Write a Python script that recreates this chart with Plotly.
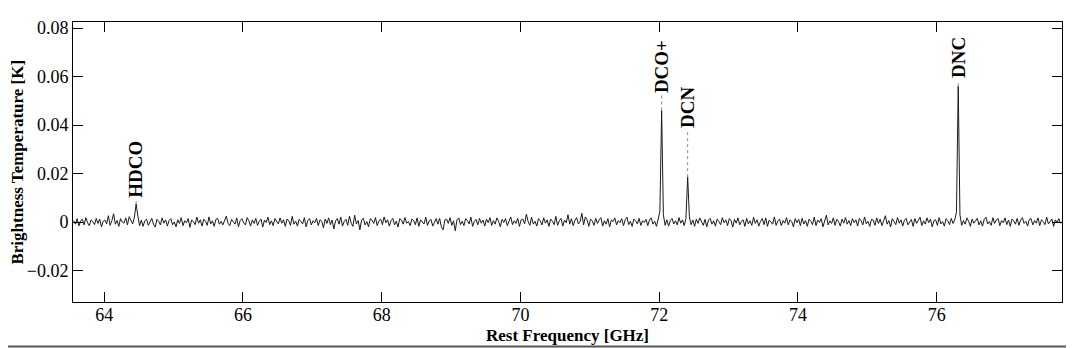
import plotly.graph_objects as go

# spectrum channels: start frequency and channel width (GHz)
freq_start = 63.56
chan_width = 0.025

# brightness temperature per channel, in mK
brightness_mk = [
    0.6, -0.9, 1.4, -1.6, 0.5, 1.1, -1.2, 1.8, -0.3, -1.5, 0.9, 0.2, -1.1, 1.5, -0.6, 1.2, -2.0, 0.3, 0.8, -0.8, 2.6, -1.4, 0.5, 3.4, -0.9, 0.6, -1.8, 1.4, 0.0, -0.5,
    1.7, -1.2, 2.2, 0.3, -0.8, 2.0, 7.4, 2.4, -1.5, 0.8, -1.8, 0.5, 1.2, -1.4, 0.2, 1.5, -0.9, -2.1, 1.1, 0.3, -1.2, 1.7, -0.5, 0.9, -1.7, 0.6, 1.4, -1.1, 0.0, -2.0,
    0.9, -0.6, 1.8, -1.5, 0.5, -0.3, 1.4, -2.2, 0.8, 0.2, -1.1, 2.0, -0.5, 0.9, -1.7, 1.2, 0.3, -1.4, 2.1, -0.8, 0.5, -1.8, 1.1, 1.5, -0.9, 0.3, -1.2, 0.8, 2.4, -0.6,
    -1.5, 1.1, 0.2, -0.9, 1.7, -2.0, 0.6, 1.4, -0.3, -1.2, 1.8, 0.5, -1.7, 0.9, -0.6, 1.5, -1.4, 0.3, 1.2, -2.1, 0.8, -0.2, 2.0, -1.1, 0.5, -1.5, 1.4, 0.0, -0.8, 1.7,
    -0.5, 0.9, -1.8, 1.2, 0.6, -1.4, 2.3, -0.9, 0.3, -1.7, 1.1, 0.2, -0.8, 1.8, -2.0, 0.6, 1.4, -1.2, 0.5, -0.3, 1.5, -1.5, 0.9, 0.3, -2.4, 1.2, -0.6, 1.7, -1.1, 0.8,
    -2.9, 0.5, 1.4, -0.9, 2.0, -1.7, 0.3, 1.1, -1.4, 2.4, -0.5, -1.8, 2.8, -0.8, 0.6, -3.2, 0.9, 1.5, -1.2, 0.2, -2.0, 1.4, 0.8, -0.6, 1.8, -1.5, 0.5, 1.2, -1.1, 2.1,
    -0.3, 0.9, -1.7, 0.6, 1.5, -1.2, 0.3, -2.1, 1.4, 0.8, -0.9, 1.8, -0.5, 0.2, -1.5, 1.2, 0.6, -1.1, 1.7, -1.8, 0.9, 0.0, -0.8, 2.0, -1.4, 0.5, 1.1, -1.7, 0.3, 1.4,
    -0.9, 1.5, -2.0, -3.2, 0.8, 1.2, -0.6, 1.8, -1.4, 0.5, -3.6, 0.9, 1.7, -1.1, 0.3, -1.5, 1.4, 0.6, -0.8, 2.0, -1.8, 0.2, 1.1, -1.2, 1.5, -0.5, 0.8, -1.7, 1.2, -0.3,
    1.8, -1.4, 0.6, -0.9, 1.7, 0.3, -2.0, 1.1, -0.2, 1.4, -1.5, 0.8, 2.1, -1.1, 0.5, -0.6, 1.5, -1.8, 0.9, 1.2, -0.8, 3.2, 0.2, -1.4, 2.0, -0.9, 0.3, -1.7, 1.4, 0.6,
    -1.2, 1.7, -0.5, 0.9, -1.8, 1.2, 0.3, -1.1, 2.3, -1.4, 0.5, 1.5, -1.7, 0.8, -0.3, 3.0, -0.9, 1.4, -1.5, 0.6, 1.8, -0.8, 0.2, 3.6, -1.2, 2.1, 0.9, -1.8, 1.1, 0.5,
    -1.4, 1.5, -0.6, 0.9, 1.8, -1.7, 0.5, -0.9, 1.4, -2.0, 0.8, 0.2, 1.7, -1.2, 0.6, -0.3, 1.4, -1.5, 0.9, 2.0, -1.1, 0.3, -1.8, 1.2, 0.6, -0.8, 1.5, -1.4, 0.5, -0.2,
    1.1, -1.5, 0.8, 1.7, -0.9, 0.3, -1.8, 1.2, 4.5, 46.0, 3.0, -1.4, 0.9, -1.7, 0.6, 1.5, -0.8, 0.5, -1.2, 1.8, -0.5, 0.9, -1.5, 1.4, 18.5, 2.1, -1.1, 0.8, -1.8, 1.2,
    -0.6, 1.7, 0.3, -1.4, 1.1, -2.0, 0.8, 1.5, -0.9, 0.5, -1.7, 1.2, 0.2, -1.1, 1.8, -0.3, 0.9, -1.5, 1.4, 0.6, -2.1, 1.1, -0.5, 1.7, -1.2, 0.3, 0.9, -1.8, 1.5, -0.8,
    0.5, -1.4, 2.0, -0.6, 0.9, -1.7, 0.3, 1.4, -1.1, 1.7, -1.8, 0.8, 0.0, -0.9, 2.1, -1.4, 0.5, 1.2, -1.5, 0.6, -0.5, 1.8, -1.2, 0.9, 0.2, -2.0, 1.4, -0.3, 1.1, -1.5,
    1.5, -0.8, 0.6, -1.8, 1.2, 0.3, -1.1, 2.0, -1.5, 0.8, -0.2, 1.4, -2.0, 0.9, 2.8, -1.2, 0.5, -0.6, 1.7, -1.4, 1.1, 0.2, -1.7, 1.2, -0.5, 1.8, -0.9, 0.6, -1.5, 1.4,
    -0.3, 0.9, -1.7, 1.5, 0.5, -1.2, 2.1, -0.8, 0.3, -1.8, 1.1, 0.8, -1.4, 1.7, -0.6, 1.2, -1.5, 0.5, 2.6, -0.9, 0.6, -2.0, 1.4, 0.2, -1.1, 1.8, -0.5, 0.9, -1.7, 0.8,
    1.5, -1.2, 0.3, 1.1, -1.8, 1.4, -0.6, 0.8, 2.0, -1.5, 0.5, -0.9, 1.7, -0.3, 1.2, -2.0, 0.6, 0.9, -1.4, 1.8, -0.8, 0.2, -1.7, 1.4, 0.5, -1.1, 1.5, -0.6, 0.9, 4.0,
    56.0, 3.0, -1.4, 0.6, -0.9, 1.7, 0.3, -1.8, 1.2, -0.5, 0.8, 1.5, -1.2, 0.5, -1.7, 1.1, 2.0, -0.8, 0.2, -1.4, 1.8, -0.6, 0.9, 1.4, -1.5, 0.6, -0.3, 1.7, -1.1, 0.8,
    -1.8, 1.2, 0.5, -0.9, 1.5, -1.4, 0.8, 1.8, -0.6, 0.3, -1.7, 1.1, 1.4, -1.2, 0.6, -0.5, 1.7, -1.5, 0.9, 0.2, -1.1, 2.0, -0.8, 0.5, 1.2, -1.8, 0.9, -0.3, 1.4, -0.6,
]

# line identifications
line_names = ["HDCO", "DCO+", "DCN", "DNC"]
line_freqs = [64.46, 72.035, 72.41, 76.31]
line_peaks = [0.0074, 0.046, 0.0185, 0.056]
label_bases = [0.009, 0.0524, 0.038, 0.0585]

FONT = "Liberation Serif"

fig = go.Figure()

fig.add_trace(go.Scatter(
    x0=freq_start, dx=chan_width,
    y=[v / 1000 for v in brightness_mk],
    mode="lines", line=dict(color="#1a1a1a", width=1),
    showlegend=False, hoverinfo="skip",
))

for name, f, peak, base in zip(line_names, line_freqs, line_peaks, label_bases):
    fig.add_trace(go.Scatter(
        x=[f, f], y=[peak, base], mode="lines",
        line=dict(color="#888888", width=1, dash="dot"),
        showlegend=False, hoverinfo="skip",
    ))
    fig.add_annotation(
        x=f, y=base, text="<b>%s</b>" % name, textangle=-90,
        xanchor="center", yanchor="bottom", showarrow=False,
        font=dict(family=FONT, size=19, color="black"),
    )

fig.add_annotation(
    xref="paper", yref="paper", x=0.5, y=-0.118,
    text="<b>Rest Frequency [GHz]</b>", showarrow=False,
    xanchor="center", yanchor="middle",
    font=dict(family=FONT, size=17, color="black"),
)
fig.add_annotation(
    xref="paper", yref="paper", x=-0.0571, y=0.5,
    text="<b>Brightness Temperature [K]</b>", showarrow=False, textangle=-90,
    xanchor="center", yanchor="middle",
    font=dict(family=FONT, size=17, color="black"),
)

# grey rule along the bottom of the image
fig.add_shape(
    type="line", xref="paper", yref="paper",
    x0=-0.074, x1=1.013, y0=-0.159, y1=-0.159,
    line=dict(color="#555555", width=2),
)

axis_style = dict(
    showline=True, linecolor="black", linewidth=1, mirror="ticks",
    ticks="inside", ticklen=10, tickcolor="black", tickwidth=1,
    showgrid=False, zeroline=False, automargin=False,
    tickfont=dict(family=FONT, size=18, color="black"),
)

fig.update_xaxes(range=[63.55, 77.806], tickvals=[64, 66, 68, 70, 72, 74, 76],
                 ticklabelstandoff=-4, **axis_style)
fig.update_yaxes(range=[-0.033, 0.0825],
                 tickvals=[-0.02, 0, 0.02, 0.04, 0.06, 0.08],
                 ticktext=["\u22120.02", "0", "0.02", "0.04", "0.06", "0.08"],
                 **axis_style)

# the page body adds an 8px offset, so the figure is 8px smaller on each side
fig.update_layout(
    width=1066, height=340,
    margin=dict(l=65, r=12, t=14, b=46),
    paper_bgcolor="white", plot_bgcolor="white",
    font=dict(family=FONT, color="black"),
)

fig.write_html("out.html")
